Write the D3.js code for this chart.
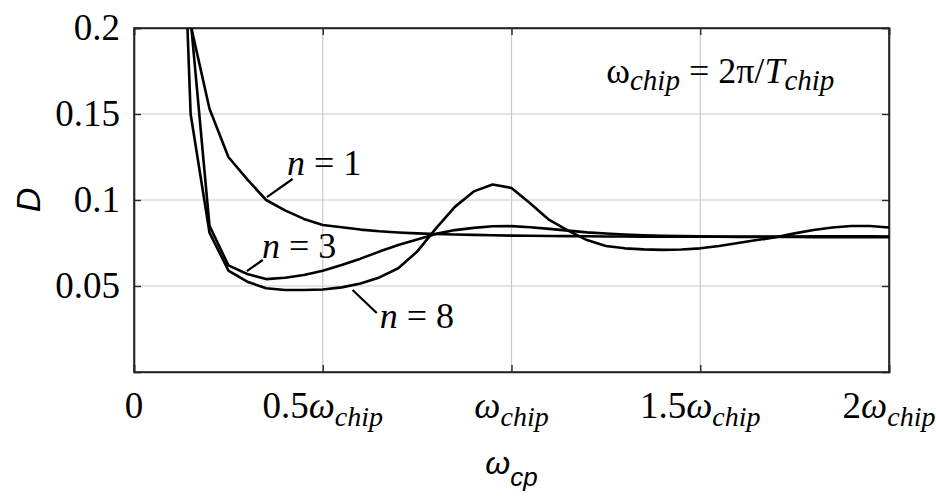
<!DOCTYPE html>
<html>
<head>
<meta charset="utf-8">
<script src="https://cdn.jsdelivr.net/npm/d3@7"></script>
</head>
<body style="margin:0">
<script>
// frequency in units of omega_chip
var freq = [0.1, 0.15, 0.2, 0.25, 0.3, 0.35, 0.4, 0.45, 0.5, 0.55, 0.6, 0.65, 0.7, 0.75,
  0.8, 0.85, 0.9, 0.95, 1.0, 1.05, 1.1, 1.15, 1.2, 1.25, 1.3, 1.35, 1.4, 1.45, 1.5,
  1.55, 1.6, 1.65, 1.7, 1.75, 1.8, 1.85, 1.9, 1.95, 2.0];

var dN1 = [0.5, 0.202, 0.153, 0.125, 0.112, 0.1, 0.094, 0.089, 0.0855, 0.0842, 0.0828,
  0.0818, 0.0811, 0.0806, 0.0802, 0.0799, 0.0797, 0.0795, 0.0793, 0.0792, 0.0791, 0.079,
  0.0789, 0.0788, 0.0788, 0.0787, 0.0787, 0.0786, 0.0786, 0.0786, 0.0785, 0.0785, 0.0785,
  0.0785, 0.0784, 0.0784, 0.0784, 0.0784, 0.0784];

var dN3 = [0.55, 0.205, 0.085, 0.062, 0.057, 0.054, 0.0548, 0.0564, 0.0589, 0.0622, 0.0659,
  0.07, 0.0738, 0.0771, 0.0803, 0.0825, 0.0838, 0.0847, 0.0848, 0.0842, 0.0832, 0.0822,
  0.0812, 0.0805, 0.0799, 0.0795, 0.0792, 0.079, 0.0789, 0.0788, 0.0787, 0.0787, 0.0787,
  0.0788, 0.0789, 0.0789, 0.0789, 0.0789, 0.0788];

var dN8 = [0.45, 0.15, 0.081, 0.059, 0.0525, 0.0487, 0.0477, 0.0477, 0.048, 0.0492, 0.0515,
  0.055, 0.0603, 0.07, 0.0835, 0.096, 0.105, 0.109, 0.107, 0.098, 0.0884, 0.0822,
  0.0767, 0.0733, 0.0719, 0.0713, 0.071, 0.0712, 0.0719, 0.0733, 0.075, 0.0767, 0.0783,
  0.0806, 0.0826, 0.084, 0.0849, 0.0849, 0.084];

var xTicks = [0, 0.5, 1, 1.5, 2];
var xTickNum = ["0", "0.5", "", "1.5", "2"];
var yTicks = [0.05, 0.1, 0.15, 0.2];
var yTickText = ["0.05", "0.1", "0.15", "0.2"];
var curveNames = ["1", "3", "8"];

var margin = {top: 28, right: 47, bottom: 125, left: 134},
  outerWidth = 936,
  outerHeight = 497,
  width = outerWidth - margin.left - margin.right,
  height = outerHeight - margin.top - margin.bottom;

var serifFam = "'Liberation Serif'";
var sansFam = "'Liberation Sans'";

var svg = d3.select("body").append("svg")
  .attr("width", outerWidth)
  .attr("height", outerHeight);

var g = svg.append("g")
  .attr("transform", "translate(" + margin.left + "," + margin.top + ")");

var xScale = d3.scaleLinear().domain([0, 2]).range([0, width]);
var yScale = d3.scaleLinear().domain([0, 0.2]).range([height, 0]);

// grid
g.selectAll("line.vgrid")
  .data(xTicks.slice(1, -1))
  .enter().append("line")
  .attr("x1", function(d) { return xScale(d); })
  .attr("x2", function(d) { return xScale(d); })
  .attr("y1", 0).attr("y2", height)
  .attr("stroke", "#c8c8c8").attr("stroke-width", 1.2);

g.selectAll("line.hgrid")
  .data(yTicks.slice(0, -1))
  .enter().append("line")
  .attr("y1", function(d) { return yScale(d); })
  .attr("y2", function(d) { return yScale(d); })
  .attr("x1", 0).attr("x2", width)
  .attr("stroke", "#c8c8c8").attr("stroke-width", 1.2);

// axes with inward ticks on all four sides
var tickLen = 7;
g.append("g").attr("transform", "translate(0," + height + ")")
  .call(d3.axisTop(xScale).tickValues(xTicks).tickSize(tickLen).tickFormat(""));
g.append("g")
  .call(d3.axisBottom(xScale).tickValues(xTicks).tickSize(tickLen).tickFormat(""));
g.append("g")
  .call(d3.axisRight(yScale).tickValues(yTicks).tickSize(tickLen).tickFormat(""));
g.append("g").attr("transform", "translate(" + width + ",0)")
  .call(d3.axisLeft(yScale).tickValues(yTicks).tickSize(tickLen).tickFormat(""));
g.selectAll(".domain").attr("stroke", "#262626").attr("stroke-width", 1.6);
g.selectAll(".tick line").attr("stroke", "#262626").attr("stroke-width", 1.4);

g.append("rect")
  .attr("width", width).attr("height", height)
  .attr("fill", "none").attr("stroke", "#262626").attr("stroke-width", 1.6);

// curves
svg.append("defs").append("clipPath").attr("id", "plotclip")
  .append("rect").attr("width", width).attr("height", height);

var line = d3.line()
  .x(function(d) { return xScale(d[0]); })
  .y(function(d) { return yScale(d[1]); });

var series = [dN1, dN3, dN8].map(function(vals) {
  return freq.map(function(f, i) { return [f, vals[i]]; });
});

g.append("g").attr("clip-path", "url(#plotclip)")
  .selectAll("path")
  .data(series)
  .enter().append("path")
  .attr("d", line)
  .attr("fill", "none")
  .attr("stroke", "#000")
  .attr("stroke-width", 2.6)
  .attr("stroke-linejoin", "round");

// all text goes into its own layer straight on the svg
var txt = svg.append("g").attr("class", "labels");

// y tick labels
txt.selectAll("text.ytick")
  .data(yTicks)
  .enter().append("text")
  .attr("x", margin.left - 14)
  .attr("y", function(d) { return margin.top + yScale(d) + 12; })
  .attr("text-anchor", "end")
  .style("font-family", serifFam)
  .style("font-size", "37px")
  .text(function(d, i) { return yTickText[i]; });

// x tick labels: number + omega_chip
var xt = txt.selectAll("text.xtick")
  .data(xTicks)
  .enter().append("text")
  .attr("x", function(d) { return margin.left + xScale(d); })
  .attr("y", margin.top + height + 46)
  .attr("text-anchor", "middle")
  .style("font-family", serifFam)
  .style("font-size", "37px");

xt.append("tspan").text(function(d, i) { return xTickNum[i]; });
xt.filter(function(d) { return d > 0; })
  .append("tspan").style("font-style", "italic").text("\u03c9");
xt.filter(function(d) { return d > 0; })
  .append("tspan").attr("dy", 8).style("font-style", "italic").style("font-size", "28px").text("chip");

// axis titles
txt.append("text")
  .attr("transform", "translate(40," + (margin.top + yScale(0.1)) + ") rotate(-90)")
  .attr("text-anchor", "middle")
  .style("font-family", sansFam)
  .style("font-style", "italic")
  .style("font-size", "34px")
  .text("D");

var xl = txt.append("text")
  .attr("x", margin.left + xScale(1))
  .attr("y", 474)
  .attr("text-anchor", "middle")
  .style("font-family", sansFam)
  .style("font-style", "italic")
  .style("font-size", "32px");
xl.append("tspan").text("\u03c9");
xl.append("tspan").attr("dy", 12).style("font-size", "26px").text("cp");

// curve labels with leader lines (positions in data units)
var labels = [
  {name: curveNames[0], tx: 0.405, ty: 0.1145, l: [[0.42, 0.1122], [0.352, 0.1017]]},
  {name: curveNames[1], tx: 0.339, ty: 0.0663, l: [[0.341, 0.0651], [0.299, 0.0587]]},
  {name: curveNames[2], tx: 0.651, ty: 0.0256, l: [[0.579, 0.0477], [0.643, 0.0343]]}
];

labels.forEach(function(lb) {
  g.append("line")
    .attr("x1", xScale(lb.l[0][0])).attr("y1", yScale(lb.l[0][1]))
    .attr("x2", xScale(lb.l[1][0])).attr("y2", yScale(lb.l[1][1]))
    .attr("stroke", "#000").attr("stroke-width", 2.2);
  var t = txt.append("text")
    .attr("x", margin.left + xScale(lb.tx))
    .attr("y", margin.top + yScale(lb.ty))
    .style("font-family", serifFam)
    .style("font-size", "36px");
  t.append("tspan").style("font-style", "italic").text("n");
  t.append("tspan").text(" = " + lb.name);
});

// omega_chip definition
var def = txt.append("text")
  .attr("x", margin.left + xScale(1.251))
  .attr("y", margin.top + yScale(0.168))
  .style("font-family", serifFam)
  .style("font-size", "36px");
def.append("tspan").text("\u03c9");
def.append("tspan").attr("dy", 7).style("font-style", "italic").style("font-size", "29px").text("chip");
def.append("tspan").attr("dy", -7).text(" = 2\u03c0/");
def.append("tspan").style("font-style", "italic").text("T");
def.append("tspan").attr("dy", 7).style("font-style", "italic").style("font-size", "29px").text("chip");
</script>
</body>
</html>
